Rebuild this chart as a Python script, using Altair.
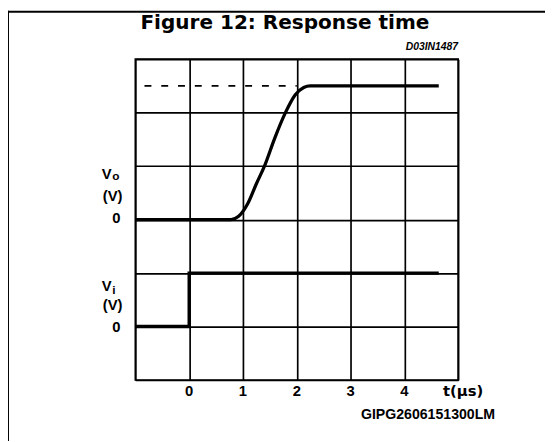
import altair as alt
import pandas as pd

# ---- data ----
grid_t = [-1, 0, 1, 2, 3, 4, 5]
grid_v = [0, 1, 2, 3, 4, 5, 6]
tick_t = [0, 1, 2, 3, 4]
tick_text = ["0", "1", "2", "3", "4"]

vo_t = [-1, 0.78, 0.92, 1.09, 1.25, 1.40, 1.59, 1.79, 1.97, 2.13, 2.25, 4.64]
vo_v = [3.0, 3.0, 3.06, 3.30, 3.67, 4.0, 4.52, 5.0, 5.33, 5.47, 5.5, 5.5]

vi_t = [-1, 0, 0, 4.64]
vi_v = [1, 1, 2, 2]

dash_t = [-0.83, 2.0]
dash_v = [5.5, 5.5]

FONT = "Liberation Sans"
WIDE = "DejaVu Sans"

vo = pd.DataFrame({"t": vo_t, "v": vo_v, "i": range(len(vo_t))})
vi = pd.DataFrame({"t": vi_t, "v": vi_v, "i": range(len(vi_t))})
dash = pd.DataFrame({"t": dash_t, "v": dash_v})

xs = alt.Scale(domain=[-1, 5], nice=False, zero=False)
ys = alt.Scale(domain=[0, 6], nice=False, zero=False)

X = alt.X("t:Q", scale=xs,
          axis=alt.Axis(values=grid_t, grid=True, gridColor="black", gridWidth=1.7,
                        gridOpacity=1, labels=False, ticks=False, domain=False, title=""))
Y = alt.Y("v:Q", scale=ys,
          axis=alt.Axis(values=grid_v, grid=True, gridColor="black", gridWidth=1.7,
                        gridOpacity=1, labels=False, ticks=False, domain=False, title=""))

vo_line = alt.Chart(vo).mark_line(color="black", strokeWidth=3.3, interpolate="monotone").encode(
    x=X, y=Y, order="i:Q")
vi_line = alt.Chart(vi).mark_line(color="black", strokeWidth=3.3, interpolate="linear",
                                  strokeJoin="miter").encode(
    x=alt.X("t:Q", scale=xs), y=alt.Y("v:Q", scale=ys), order="i:Q")
dash_line = alt.Chart(dash).mark_line(color="black", strokeWidth=1.7, strokeDash=[7, 10]).encode(
    x=alt.X("t:Q", scale=xs), y=alt.Y("v:Q", scale=ys))


def txt(df, size, align, dx=0, style="normal", font=FONT):
    return alt.Chart(df).mark_text(font=font, fontWeight="bold", fontSize=size, align=align,
                                   baseline="alphabetic", dx=dx, color="black",
                                   fontStyle=style)


# y-side labels
ylab_V = pd.DataFrame({"v": [3.766, 1.661], "txt": ["V", "V"]})
ylab_sub = pd.DataFrame({"v": [3.745, 1.606], "txt": ["o", "i"]})
ylab_unit = pd.DataFrame({"v": [3.35, 1.31], "txt": ["(V)", "(V)"]})
ylab_zero = pd.DataFrame({"v": [2.935, 0.905], "txt": ["0", "0"]})

l_V = txt(ylab_V, 15, "right", dx=-24).encode(x=alt.value(0), y=alt.Y("v:Q", scale=ys), text="txt:N")
l_sub = txt(ylab_sub, 12, "left", dx=-23.5).encode(x=alt.value(0), y=alt.Y("v:Q", scale=ys), text="txt:N")
l_unit = txt(ylab_unit, 15, "right", dx=-13).encode(x=alt.value(0), y=alt.Y("v:Q", scale=ys), text="txt:N")
l_zero = txt(ylab_zero, 15, "right", dx=-15).encode(x=alt.value(0), y=alt.Y("v:Q", scale=ys), text="txt:N")

ticks = pd.DataFrame({"t": tick_t, "txt": tick_text})
l_ticks = txt(ticks, 15, "center").encode(x=alt.X("t:Q", scale=xs), y=alt.value(341), text="txt:N")

unit_x = txt(pd.DataFrame({"t": [5], "txt": ["t(µs)"]}), 15, "center", dx=5, font=WIDE).encode(
    x=alt.X("t:Q", scale=xs), y=alt.value(341), text="txt:N")
code2 = txt(pd.DataFrame({"t": [4.44], "txt": ["GIPG2606151300LM"]}), 14.3, "center").encode(
    x=alt.X("t:Q", scale=xs), y=alt.value(365), text="txt:N")
code1 = txt(pd.DataFrame({"t": [5], "txt": ["D03IN1487"]}), 10.5, "right", style="italic").encode(
    x=alt.X("t:Q", scale=xs), y=alt.value(-9), text="txt:N")
title = txt(pd.DataFrame({"t": [1.78], "txt": ["Figure 12: Response time"]}), 20.3, "center",
            font=WIDE).encode(x=alt.X("t:Q", scale=xs), y=alt.value(-30.5), text="txt:N")

frame_left = alt.Chart(pd.DataFrame({"a": [0]})).mark_rule(color="black", strokeWidth=2).encode(
    x=alt.value(-129), y=alt.value(-49), y2=alt.value(390))
frame_top = alt.Chart(pd.DataFrame({"a": [0]})).mark_rule(color="black", strokeWidth=2).encode(
    x=alt.value(-130), x2=alt.value(420), y=alt.value(-48))

chart = alt.layer(
    vo_line, vi_line, dash_line,
    l_V, l_sub, l_unit, l_zero, l_ticks, unit_x, code2, code1, title,
    frame_left, frame_top,
).properties(
    width=327, height=325,
    autosize=alt.AutoSizeParams(type="none"),
    padding={"left": 129, "top": 49, "right": 88, "bottom": 59},
).configure_view(stroke="black", strokeWidth=1.7)

chart.save("out.html", embed_options={"renderer": "svg", "actions": False})
